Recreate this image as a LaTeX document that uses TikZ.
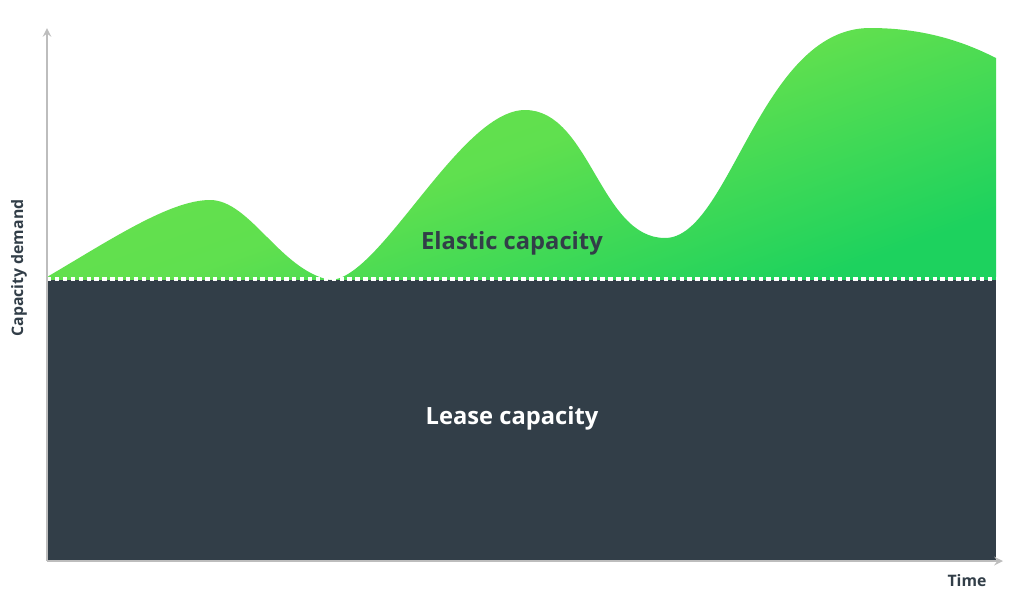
\documentclass[tikz,border=0pt]{standalone}
\usepackage{fontspec}
\setmainfont{Open Sans}
\definecolor{slate}{HTML}{323E48}
\definecolor{lightgreen}{HTML}{6BE24C}
\definecolor{deepgreen}{HTML}{1DD25E}
\definecolor{axisgray}{HTML}{BDBDBD}
\begin{document}
\begin{tikzpicture}[x=0.02cm,y=-0.02cm,
  axis/.style={draw=axisgray,line width=1.2pt,-stealth},
  biglabel/.style={font=\bfseries\fontsize{13.5}{16}\selectfont},
  smalllabel/.style={font=\bfseries\fontsize{9}{11}\selectfont,text=slate}]
  \useasboundingbox (0,0) rectangle (1024,602);
  % elastic part
  \shade[left color=lightgreen,right color=deepgreen,middle color=lightgreen!85!deepgreen,shading angle=20]
    (47,277) .. controls (110,240) and (170,200) .. (210,200)
    .. controls (250,200) and (280,270) .. (330,280)
    .. controls (380,280) and (460,110) .. (525,110)
    .. controls (590,110) and (600,238) .. (665,238)
    .. controls (730,238) and (760,28) .. (870,28)
    .. controls (930,28) and (970,45) .. (996,58)
    -- (996,280) -- (47,280) -- cycle;
  % lease part
  \fill[slate] (47,280) rectangle (996,560);
  \draw[white,line width=2.5pt,dash pattern=on 2.5pt off 2pt] (47,279) -- (996,279);
  % axes
  \coordinate (o) at (47,561);
  \coordinate (ytop) at (47,28);
  \coordinate (xend) at (1003,561);
  \draw[axis] (o) -- (ytop);
  \draw[axis] (o) -- (xend);
  \node[biglabel,text=slate] (elastic) at (512,243) {Elastic capacity};
  \node[biglabel,text=white] (lease) at (512,418) {Lease capacity};
  \node[smalllabel,rotate=90] (ylab) at (19,268) {Capacity demand};
  \node[smalllabel] (xlab) at (967,581) {Time};
\end{tikzpicture}
\end{document}
